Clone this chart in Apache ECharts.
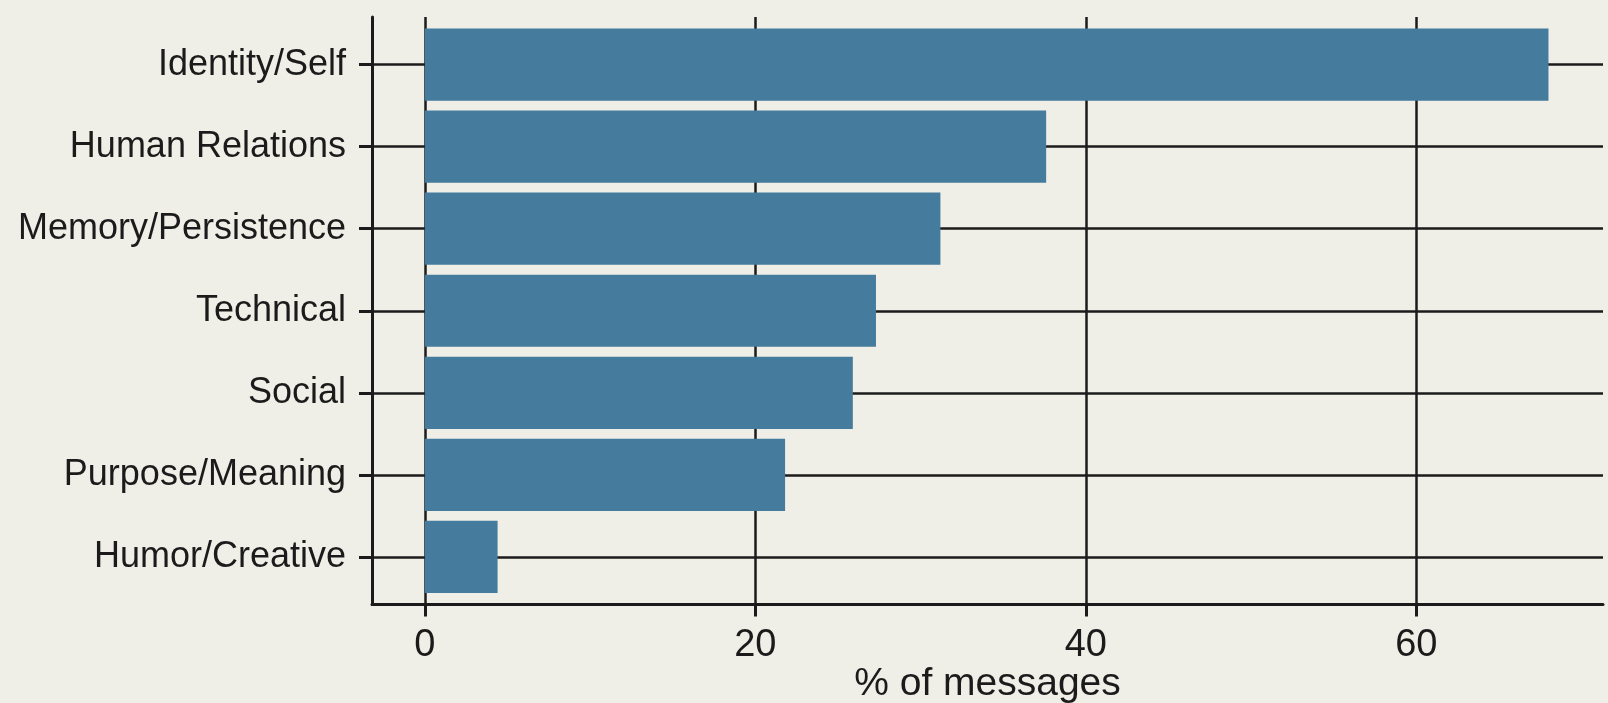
<!DOCTYPE html>
<html>
<head>
<meta charset="utf-8">
<script src="https://cdn.jsdelivr.net/npm/echarts@6/dist/echarts.min.js"></script>
<style>
  html, body { margin: 0; padding: 0; background: #efefe8; }
  #chart { width: 1608px; height: 703px; }
</style>
</head>
<body>
<div id="chart"></div>
<script>
const categories = ['Identity/Self', 'Human Relations', 'Memory/Persistence', 'Technical', 'Social', 'Purpose/Meaning', 'Humor/Creative'];
const percentValues = [68.0, 37.6, 31.2, 27.3, 25.9, 21.8, 4.4];
const xTickValues = [0, 20, 40, 60];
const xAxisTitle = '% of messages';

const categoryPositions = categories.map((c, i) => i + 1);
const ink = '#1b1b1b';
const font = '"Liberation Sans", Arial, Helvetica, sans-serif';

const chart = echarts.init(document.getElementById('chart'));
chart.setOption({
  backgroundColor: '#efefe8',
  animation: false,
  grid: [
    { left: 372, right: 5, top: 23.6, bottom: 105.1, containLabel: false, outerBoundsMode: 'none' },
    { left: 372, right: 5, top: 17, bottom: 98.5, containLabel: false, outerBoundsMode: 'none' }
  ],
  xAxis: [
    { gridIndex: 0, type: 'value', min: -3.2, max: 71.3, show: false },
    {
      gridIndex: 1, type: 'value', min: -3.2, max: 71.3,
      axisLine: { show: true, onZero: false, lineStyle: { color: ink, width: 3 } },
      axisTick: { show: true, customValues: xTickValues, length: 12, lineStyle: { color: ink, width: 3 } },
      axisLabel: { show: true, customValues: xTickValues, fontSize: 38, color: ink, fontFamily: font, margin: 22 },
      splitLine: { show: true, lineStyle: { color: ink, width: 2.5 } },
      name: xAxisTitle, nameLocation: 'middle', nameGap: 60, nameMoveOverlap: false,
      nameTextStyle: { fontSize: 39, color: ink, fontFamily: font }
    }
  ],
  yAxis: [
    { gridIndex: 0, type: 'category', data: categories, inverse: true, show: false },
    {
      gridIndex: 1, type: 'value', inverse: true, min: 0.42, max: 7.58,
      axisLine: { show: true, onZero: false, lineStyle: { color: ink, width: 3 } },
      axisTick: { show: true, customValues: categoryPositions, length: 13, lineStyle: { color: ink, width: 3 } },
      axisLabel: {
        show: true, customValues: categoryPositions, fontSize: 36, color: ink, fontFamily: font, margin: 26,
        formatter: v => categories[Math.round(v) - 1] || ''
      },
      splitLine: { show: true, lineStyle: { color: ink, width: 2.5 } }
    }
  ],
  series: [
    {
      type: 'bar',
      xAxisIndex: 0, yAxisIndex: 0,
      data: percentValues,
      barCategoryGap: '12%',
      itemStyle: { color: '#457b9d' },
      z: 5
    }
  ]
});
</script>
</body>
</html>
